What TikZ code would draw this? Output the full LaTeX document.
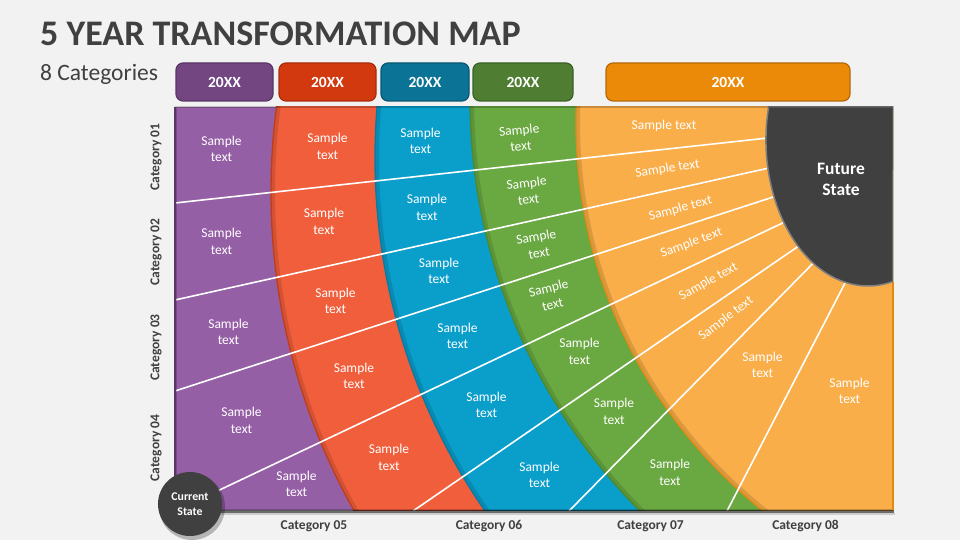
\documentclass[tikz,border=0pt]{standalone}
\usepackage{fontspec}
\setmainfont{Carlito}
\definecolor{bg}{HTML}{F2F2F2}
\definecolor{ink}{HTML}{404040}
\definecolor{edge}{HTML}{808080}
\definecolor{purp}{HTML}{955FA6}
\definecolor{purpbox}{HTML}{734682}
\definecolor{purpdk}{HTML}{5B3468}
\definecolor{redb}{HTML}{F05E3C}
\definecolor{redbox}{HTML}{D3390F}
\definecolor{reddk}{HTML}{A82C0C}
\definecolor{redln}{HTML}{C23B17}
\definecolor{blueb}{HTML}{0A9ECB}
\definecolor{bluebox}{HTML}{0B7496}
\definecolor{bluedk}{HTML}{075770}
\definecolor{blueln}{HTML}{087BA0}
\definecolor{grnb}{HTML}{6AA841}
\definecolor{grnbox}{HTML}{4F7E32}
\definecolor{grndk}{HTML}{3B6125}
\definecolor{grnln}{HTML}{4D8A2C}
\definecolor{orab}{HTML}{F9AE4A}
\definecolor{orabox}{HTML}{EB8A08}
\definecolor{oradk}{HTML}{B56A05}
\definecolor{oraln}{HTML}{E48A10}
\begin{document}
\begin{tikzpicture}[x=1pt,y=-1pt,
	txt/.style={text=white,align=center,inner sep=0.5pt,font=\fontsize{13.5}{16.5}\selectfont},
	cat/.style={text=ink,inner sep=1pt,font=\bfseries\fontsize{13.5}{16}\selectfont},
	yr/.style={rounded corners=7pt,line width=1.2pt,text=white,minimum height=38pt,font=\bfseries\fontsize{15.5}{18}\selectfont},
	ray/.style={white,line width=1.6pt},
	shade/.style={black,opacity=.12,line width=4pt}]
	\useasboundingbox (0,0) rectangle (960,540);
	\fill[bg] (0,0) rectangle (960,540);
	
	\node[anchor=base west,inner sep=0,text=ink,font=\bfseries\fontsize{36}{40}\selectfont] (title) at (40,46) {5 YEAR TRANSFORMATION MAP};
	\node[anchor=base west,inner sep=0,text=ink,font=\fontsize{23.5}{26}\selectfont] (subtitle) at (40,81) {8 Categories};
	
	\node[yr,fill=purpbox,draw=purpdk,minimum width=97pt] (y1) at (224.5,82) {20XX};
	\node[yr,fill=redbox,draw=reddk,minimum width=97pt] (y2) at (327.5,82) {20XX};
	\node[yr,fill=bluebox,draw=bluedk,minimum width=88pt] (y3) at (425,82) {20XX};
	\node[yr,fill=grnbox,draw=grndk,minimum width=100pt] (y4) at (523,82) {20XX};
	\node[yr,fill=orabox,draw=oradk,minimum width=244pt] (y5) at (728,82) {20XX};
	
	\coordinate (c0) at (190,504);
	\coordinate (l1) at (175,203);
	\coordinate (l2) at (175,300);
	\coordinate (l3) at (175,391);
	\coordinate (l5) at (413,511);
	\coordinate (l6) at (569,511);
	\coordinate (l7) at (727,511);
	\coordinate (f1) at (795,135);
	\coordinate (f2) at (796,162);
	\coordinate (f3) at (801,188);
	\coordinate (f4) at (810,210);
	\coordinate (f5) at (822,230);
	\coordinate (f6) at (833,243);
	\coordinate (f7) at (859,256);
	
	\begin{scope}
		\clip (175,107) rectangle (893,510);
		\fill[purp] (175,107) rectangle (893,510);
		\fill[redb] (923,192) circle (652);
		\draw[shade] (923,192) circle (650);
		\draw[redln,line width=1.3pt] (923,192) circle (652);
		\fill[blueb] (996,158) circle (621);
		\draw[shade] (996,158) circle (619);
		\draw[blueln,line width=1.3pt] (996,158) circle (621);
		\fill[grnb] (1057,98) circle (587);
		\draw[shade] (1057,98) circle (585);
		\draw[grnln,line width=1.3pt] (1057,98) circle (587);
		\fill[orab] (1073,122.5) circle (497);
		\draw[shade] (1073,122.5) circle (495);
		\draw[oraln,line width=1.3pt] (1073,122.5) circle (497);
		
		\draw[ray] (l1)--(f1);
		\draw[ray] (l2)--(f2);
		\draw[ray] (l3)--(f3);
		\draw[ray] (c0)--(f4);
		\draw[ray] (l5)--(f5);
		\draw[ray] (l6)--(f6);
		\draw[ray] (l7)--(f7);
		
		\filldraw[fill=ink,draw=edge,line width=1.5pt] (768.6,107) arc[start angle=193.06,end angle=75.81,x radius=102,y radius=146] -- (893,107) -- cycle;
		\draw[black,opacity=.2,line width=3pt] (175,107) rectangle (893,510);
	\end{scope}
	\draw[purpdk,line width=2pt] (175,107) -- (175,510);
	\draw[oraln,line width=2pt] (893,282) -- (893,510);
	\fill[black,opacity=.55] (176,510) rectangle (894,512.5);
	\fill[black,opacity=.15] (177,512.5) rectangle (895,514.5);
	
	\node[text=white,align=center,font=\bfseries\fontsize{17.5}{21}\selectfont] (future) at (841,179) {Future\\State};
	
	\node[txt] (p1) at (221.5,149) {Sample\\text};
	\node[txt] (p2) at (221.5,241.5) {Sample\\text};
	\node[txt] (p3) at (228.5,332) {Sample\\text};
	\node[txt] (p4) at (241.5,420.5) {Sample\\text};
	\node[txt] (p5) at (296.5,484) {Sample\\text};
	
	\node[txt] (r1) at (327.5,146.5) {Sample\\text};
	\node[txt] (r2) at (324,221.5) {Sample\\text};
	\node[txt] (r3) at (335.5,301) {Sample\\text};
	\node[txt] (r4) at (354,376) {Sample\\text};
	\node[txt] (r5) at (389,457.5) {Sample\\text};
	
	\node[txt] (b1) at (420.5,141) {Sample\\text};
	\node[txt] (b2) at (427,207.5) {Sample\\text};
	\node[txt] (b3) at (439,271) {Sample\\text};
	\node[txt] (b4) at (457.5,336) {Sample\\text};
	\node[txt] (b5) at (486.5,405) {Sample\\text};
	\node[txt] (b6) at (539.5,475) {Sample\\text};
	
	\node[txt,rotate=6] (g1) at (520,138) {Sample\\text};
	\node[txt,rotate=7] (g2) at (527.5,191) {Sample\\text};
	\node[txt,rotate=10] (g3) at (537.5,245) {Sample\\text};
	\node[txt,rotate=14] (g4) at (550.5,296) {Sample\\text};
	\node[txt] (g5) at (579.5,351.5) {Sample\\text};
	\node[txt] (g6) at (614,411.5) {Sample\\text};
	\node[txt] (g7) at (670,472.5) {Sample\\text};
	
	\node[txt] (o1) at (664,125.5) {Sample text};
	\node[txt,rotate=9] (o2) at (667.5,169) {Sample text};
	\node[txt,rotate=15] (o3) at (680.5,208.5) {Sample text};
	\node[txt,rotate=20] (o4) at (691.5,243) {Sample text};
	\node[txt,rotate=29] (o5) at (708.5,281.5) {Sample text};
	\node[txt,rotate=37] (o6) at (726,318.5) {Sample text};
	\node[txt] (o7) at (762.5,365) {Sample\\text};
	\node[txt] (o8) at (849.5,391) {Sample\\text};
	
	\node[cat,rotate=90] (k1) at (156,157) {Category 01};
	\node[cat,rotate=90] (k2) at (156,252) {Category 02};
	\node[cat,rotate=90] (k3) at (156,347.5) {Category 03};
	\node[cat,rotate=90] (k4) at (156,448) {Category 04};
	\node[cat] (k5) at (314,526) {Category 05};
	\node[cat] (k6) at (489,526) {Category 06};
	\node[cat] (k7) at (650.5,526) {Category 07};
	\node[cat] (k8) at (805.5,526) {Category 08};
	
	\fill[black,opacity=.25] (192,507) circle (33);
	\node[circle,fill=ink,minimum size=64pt,inner sep=0,text=white,align=center,font=\bfseries\fontsize{11.8}{15}\selectfont] (current) at (c0) {Current\\State};
\end{tikzpicture}
\end{document}
